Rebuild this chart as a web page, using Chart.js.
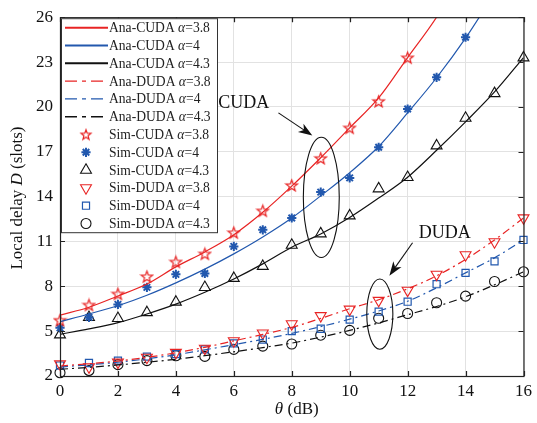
<!DOCTYPE html>
<html>
<head>
<meta charset="utf-8">
<script src="https://cdn.jsdelivr.net/npm/chart.js@4.4.0/dist/chart.umd.min.js"></script>
<style>
  html, body { margin: 0; padding: 0; background: #fff; }
  canvas { display: block; }
</style>
</head>
<body>
<canvas id="myChart" width="537" height="423"></canvas>
<script>
'use strict';
/*---------------------------------*/
/*-------------- Data -------------*/
/*---------------------------------*/
let thetaDb = [0, 1, 2, 3, 4, 5, 6, 7, 8, 9, 10, 11, 12, 13, 14, 15, 16];
let xTicks = [0, 2, 4, 6, 8, 10, 12, 14, 16];
let yTicks = [2, 5, 8, 11, 14, 17, 20, 23, 26];

// analytic curves (values above 26 are clipped by the axes)
let anaCuda38 = [6.07, 6.6, 7.35, 8.15, 9.3, 10.3, 11.45, 12.95, 14.7, 16.6, 18.6, 20.6, 23.3, 26.0, 29.3];
let anaCuda4 = [5.64, 6.15, 6.7, 7.4, 8.23, 9.15, 10.17, 11.3, 12.57, 14.05, 15.6, 17.35, 19.6, 21.95, 24.6, 27.6];
let anaCuda43 = [4.79, 5.15, 5.57, 6.15, 6.81, 7.6, 8.49, 9.5, 10.61, 11.5, 12.6, 13.9, 15.3, 17.1, 19.0, 21.0, 23.3];
let anaDuda38 = [2.67, 2.82, 3.0, 3.25, 3.55, 3.92, 4.35, 4.78, 5.25, 5.85, 6.5, 7.1, 7.83, 8.7, 9.8, 11.1, 12.57];
let anaDuda4 = [2.6, 2.75, 2.92, 3.15, 3.42, 3.75, 4.1, 4.45, 4.85, 5.3, 5.8, 6.35, 7.0, 7.9, 8.9, 9.9, 11.1];
let anaDuda43 = [2.45, 2.58, 2.74, 2.92, 3.12, 3.36, 3.62, 3.9, 4.2, 4.6, 5.05, 5.55, 6.1, 6.65, 7.3, 8.1, 8.97];

// simulation points
let simCuda38 = [5.73, 6.75, 7.49, 8.65, 9.63, 10.17, 11.59, 13.05, 14.75, 16.56, 18.6, 20.37, 23.29];
let simCuda4 = [5.22, 5.92, 6.79, 7.93, 8.8, 8.86, 10.67, 11.78, 12.57, 14.3, 15.25, 17.3, 19.86, 21.98, 24.66];
let simCuda43 = [4.76, 5.92, 5.86, 6.25, 6.95, 7.93, 8.54, 9.34, 10.76, 11.52, 12.72, 14.53, 15.29, 17.4, 19.25, 20.9, 23.29];
let simDuda38 = [2.8, 2.6, 2.92, 3.24, 3.57, 3.85, 4.35, 4.87, 5.48, 6.03, 6.46, 7.05, 7.73, 8.8, 10.1, 10.97, 12.57];
let simDuda4 = [2.7, 2.87, 3.03, 3.3, 3.46, 3.78, 4.18, 4.44, 5.0, 5.16, 5.77, 6.31, 6.97, 8.14, 8.9, 9.67, 11.1];
let simDuda43 = [2.22, 2.37, 2.76, 3.03, 3.35, 3.31, 3.78, 4.0, 4.14, 4.73, 5.05, 5.86, 6.18, 6.9, 7.34, 8.32, 8.97];

/*---------------------------------*/
/*------------- Styles ------------*/
/*---------------------------------*/
let RED = '#e82424';
let BLUE = '#2258ae';
let BLACK = '#111111';
let SERIF = '"Liberation Serif", "DejaVu Serif", serif';
let DASH_DOT = [8, 4, 2, 4];

function toPoints(arr) {
  return arr.map((v, i) => ({ x: thetaDb[i], y: v }));
}

// outline pentagram used as a point style
function makeStar(color, outer) {
  let size = Math.ceil(outer * 2 + 3);
  let c = document.createElement('canvas');
  c.width = size;
  c.height = size;
  let g = c.getContext('2d');
  g.strokeStyle = color;
  g.lineWidth = 1.2;
  g.beginPath();
  for (let i = 0; i < 10; i++) {
    let r = i % 2 === 0 ? outer : outer * 0.41;
    let a = -Math.PI / 2 + i * Math.PI / 5;
    let px = size / 2 + r * Math.cos(a);
    let py = size / 2 + 0.5 + r * Math.sin(a);
    if (i === 0) g.moveTo(px, py); else g.lineTo(px, py);
  }
  g.closePath();
  g.stroke();
  return c;
}
let starImg = makeStar(RED, 6);
let starLegendImg = makeStar(RED, 5.2);

function anaSet(label, arr, color, dashed) {
  return {
    label: label,
    data: toPoints(arr),
    borderColor: color,
    borderWidth: 1.2,
    borderDash: dashed ? DASH_DOT : [],
    pointRadius: 0,
    cubicInterpolationMode: 'monotone',
    fill: false,
  };
}

function simSet(label, arr, color, style, radius, rotation, width) {
  return {
    label: label,
    data: toPoints(arr),
    showLine: false,
    borderColor: color,
    backgroundColor: 'rgba(0,0,0,0)',
    pointStyle: style,
    pointRadius: radius,
    pointRotation: rotation,
    pointBorderWidth: width,
    clip: false,
  };
}

let datasets = [
  anaSet('Ana-CUDA α=3.8', anaCuda38, RED, false),
  anaSet('Ana-CUDA α=4', anaCuda4, BLUE, false),
  anaSet('Ana-CUDA α=4.3', anaCuda43, BLACK, false),
  anaSet('Ana-DUDA α=3.8', anaDuda38, RED, true),
  anaSet('Ana-DUDA α=4', anaDuda4, BLUE, true),
  anaSet('Ana-DUDA α=4.3', anaDuda43, BLACK, true),
  simSet('Sim-CUDA α=3.8', simCuda38, RED, starImg, 6, 0, 1.2),
  simSet('Sim-CUDA α=4', simCuda4, BLUE, 'star', 4.6, 0, 2),
  simSet('Sim-CUDA α=4.3', simCuda43, BLACK, 'triangle', 6.3, 0, 1.1),
  simSet('Sim-DUDA α=3.8', simDuda38, RED, 'triangle', 6.3, 180, 1.1),
  simSet('Sim-DUDA α=4', simDuda4, BLUE, 'rect', 5, 0, 1.2),
  simSet('Sim-DUDA α=4.3', simDuda43, BLACK, 'circle', 5, 0, 1.1),
];

/*---------------------------------*/
/*----------- Annotations ---------*/
/*---------------------------------*/
let notes = [
  { text: 'CUDA', tx: 6.34, ty: 20.25, ax0: 7.54, ay0: 19.6, ax1: 8.71, ay1: 18.08, ex: 9.02, ey: 13.95, rx: 0.62, ry: 4.02 },
  { text: 'DUDA', tx: 13.28, ty: 11.52, ax0: 12.17, ay0: 10.91, ax1: 11.37, ay1: 8.71, ex: 11.04, ey: 6.14, rx: 0.45, ry: 2.35 },
];

// draws text made of parts, some of them italic
function drawRich(ctx, parts, x, y, size, align) {
  let total = 0;
  parts.forEach(p => {
    ctx.font = (p.i ? 'italic ' : '') + size + 'px ' + SERIF;
    p.w = ctx.measureText(p.t).width;
    total += p.w;
  });
  let cx = align === 'center' ? x - total / 2 : x;
  ctx.textAlign = 'left';
  parts.forEach(p => {
    ctx.font = (p.i ? 'italic ' : '') + size + 'px ' + SERIF;
    ctx.fillText(p.t, cx, y);
    cx += p.w;
  });
}

function labelParts(label) {
  let k = label.indexOf('α');
  return [{ t: label.slice(0, k) }, { t: 'α', i: true }, { t: label.slice(k + 1) }];
}

function arrow(ctx, x0, y0, x1, y1) {
  let ang = Math.atan2(y1 - y0, x1 - x0);
  let len = 14, half = 5;
  let c = Math.cos(ang), s = Math.sin(ang);
  ctx.beginPath();
  ctx.moveTo(x0, y0);
  ctx.lineTo(x1 - c * len * 0.7, y1 - s * len * 0.7);
  ctx.stroke();
  ctx.beginPath();
  ctx.moveTo(x1, y1);
  ctx.lineTo(x1 - c * len + s * half, y1 - s * len - c * half);
  ctx.lineTo(x1 - c * len * 0.72, y1 - s * len * 0.72);
  ctx.lineTo(x1 - c * len - s * half, y1 - s * len + c * half);
  ctx.closePath();
  ctx.fill();
}

let extrasPlugin = {
  id: 'extras',
  afterDatasetsDraw(chart) {
    let ctx = chart.ctx;
    let a = chart.chartArea;
    let xs = chart.scales.x;
    let ys = chart.scales.y;
    ctx.save();

    // axes box with inward ticks
    ctx.strokeStyle = '#222';
    ctx.lineWidth = 1.2;
    ctx.setLineDash([]);
    ctx.strokeRect(a.left + 0.5, a.top + 0.5, a.right - a.left, a.bottom - a.top);
    ctx.beginPath();
    xTicks.forEach(v => {
      let px = Math.round(xs.getPixelForValue(v)) + 0.5;
      ctx.moveTo(px, a.bottom); ctx.lineTo(px, a.bottom - 5);
      ctx.moveTo(px, a.top); ctx.lineTo(px, a.top + 5);
    });
    yTicks.forEach(v => {
      let py = Math.round(ys.getPixelForValue(v)) + 0.5;
      ctx.moveTo(a.left, py); ctx.lineTo(a.left + 5, py);
      ctx.moveTo(a.right, py); ctx.lineTo(a.right - 5, py);
    });
    ctx.stroke();

    // annotations
    ctx.strokeStyle = '#111';
    ctx.fillStyle = '#111';
    ctx.lineWidth = 1.1;
    notes.forEach(n => {
      let ex = xs.getPixelForValue(n.ex);
      let ey = ys.getPixelForValue(n.ey);
      let rx = xs.getPixelForValue(n.ex + n.rx) - ex;
      let ry = ey - ys.getPixelForValue(n.ey + n.ry);
      ctx.beginPath();
      ctx.ellipse(ex, ey, rx, ry, 0, 0, Math.PI * 2);
      ctx.stroke();
      arrow(ctx, xs.getPixelForValue(n.ax0), ys.getPixelForValue(n.ay0),
        xs.getPixelForValue(n.ax1), ys.getPixelForValue(n.ay1));
      ctx.textBaseline = 'middle';
      drawRich(ctx, [{ t: n.text }], xs.getPixelForValue(n.tx), ys.getPixelForValue(n.ty), 18, 'center');
    });

    // legend box
    let lx = a.left + 1, ly = a.top + 1, lw = 156, lh = 214;
    ctx.fillStyle = '#fff';
    ctx.fillRect(lx, ly, lw, lh);
    ctx.strokeStyle = '#333';
    ctx.lineWidth = 1;
    ctx.strokeRect(lx + 0.5, ly + 0.5, lw, lh);
    chart.data.datasets.forEach((ds, i) => {
      let ry = a.top + 10.5 + 17.8 * i;
      if (ds.pointRadius === 0) {
        ctx.strokeStyle = ds.borderColor;
        ctx.lineWidth = ds.borderDash.length ? 1.4 : 2;
        ctx.setLineDash(ds.borderDash.length ? [12, 5, 4, 5] : []);
        ctx.beginPath();
        ctx.moveTo(a.left + 5, ry);
        ctx.lineTo(a.left + 48, ry);
        ctx.stroke();
        ctx.setLineDash([]);
      } else {
        ctx.strokeStyle = ds.borderColor;
        ctx.fillStyle = 'rgba(0,0,0,0)';
        ctx.lineWidth = ds.pointBorderWidth;
        let isImg = typeof ds.pointStyle !== 'string';
        Chart.helpers.drawPoint(ctx, {
          pointStyle: isImg ? starLegendImg : ds.pointStyle,
          radius: ds.pointRadius,
          rotation: ds.pointRotation,
          borderWidth: ds.pointBorderWidth,
        }, a.left + 26, ry);
      }
      ctx.fillStyle = '#222';
      ctx.textBaseline = 'middle';
      drawRich(ctx, labelParts(ds.label), a.left + 49, ry + 1, 13.6, 'left');
    });

    // axis titles
    ctx.fillStyle = '#111';
    ctx.textBaseline = 'middle';
    drawRich(ctx, [{ t: 'θ', i: true }, { t: ' (dB)' }], (a.left + a.right) / 2 + 5, 410, 17, 'center');
    ctx.translate(18, 198);
    ctx.rotate(-Math.PI / 2);
    drawRich(ctx, [{ t: 'Local delay ' }, { t: 'D', i: true }, { t: ' (slots)' }], 0, 0, 17, 'center');
    ctx.restore();
  }
};

/*---------------------------------*/
/*------------- Chart -------------*/
/*---------------------------------*/
let tickFont = { family: SERIF, size: 17 };

let config = {
  type: 'line',
  data: { datasets: datasets },
  options: {
    responsive: false,
    animation: false,
    events: [],
    layout: { padding: { top: 8, right: 10, left: 0, bottom: 0 } },
    plugins: { legend: { display: false }, tooltip: { enabled: false } },
    scales: {
      x: {
        type: 'linear',
        min: 0,
        max: 16,
        afterBuildTicks: s => { s.ticks = xTicks.map(v => ({ value: v })); },
        afterFit: s => { s.height = 47; },
        ticks: { font: tickFont, color: '#111', padding: 5, maxRotation: 0 },
        grid: { color: '#e2e2e2', drawTicks: false, lineWidth: 1 },
        border: { display: false },
      },
      y: {
        min: 2,
        max: 26,
        afterBuildTicks: s => { s.ticks = yTicks.map(v => ({ value: v })); },
        afterFit: s => { s.width = 60; },
        ticks: { font: tickFont, color: '#111', padding: 7 },
        grid: { color: '#e2e2e2', drawTicks: false, lineWidth: 1 },
        border: { display: false },
      },
    },
  },
  plugins: [extrasPlugin],
};

const myChart = new Chart(document.getElementById('myChart'), config);
</script>
</body>
</html>
